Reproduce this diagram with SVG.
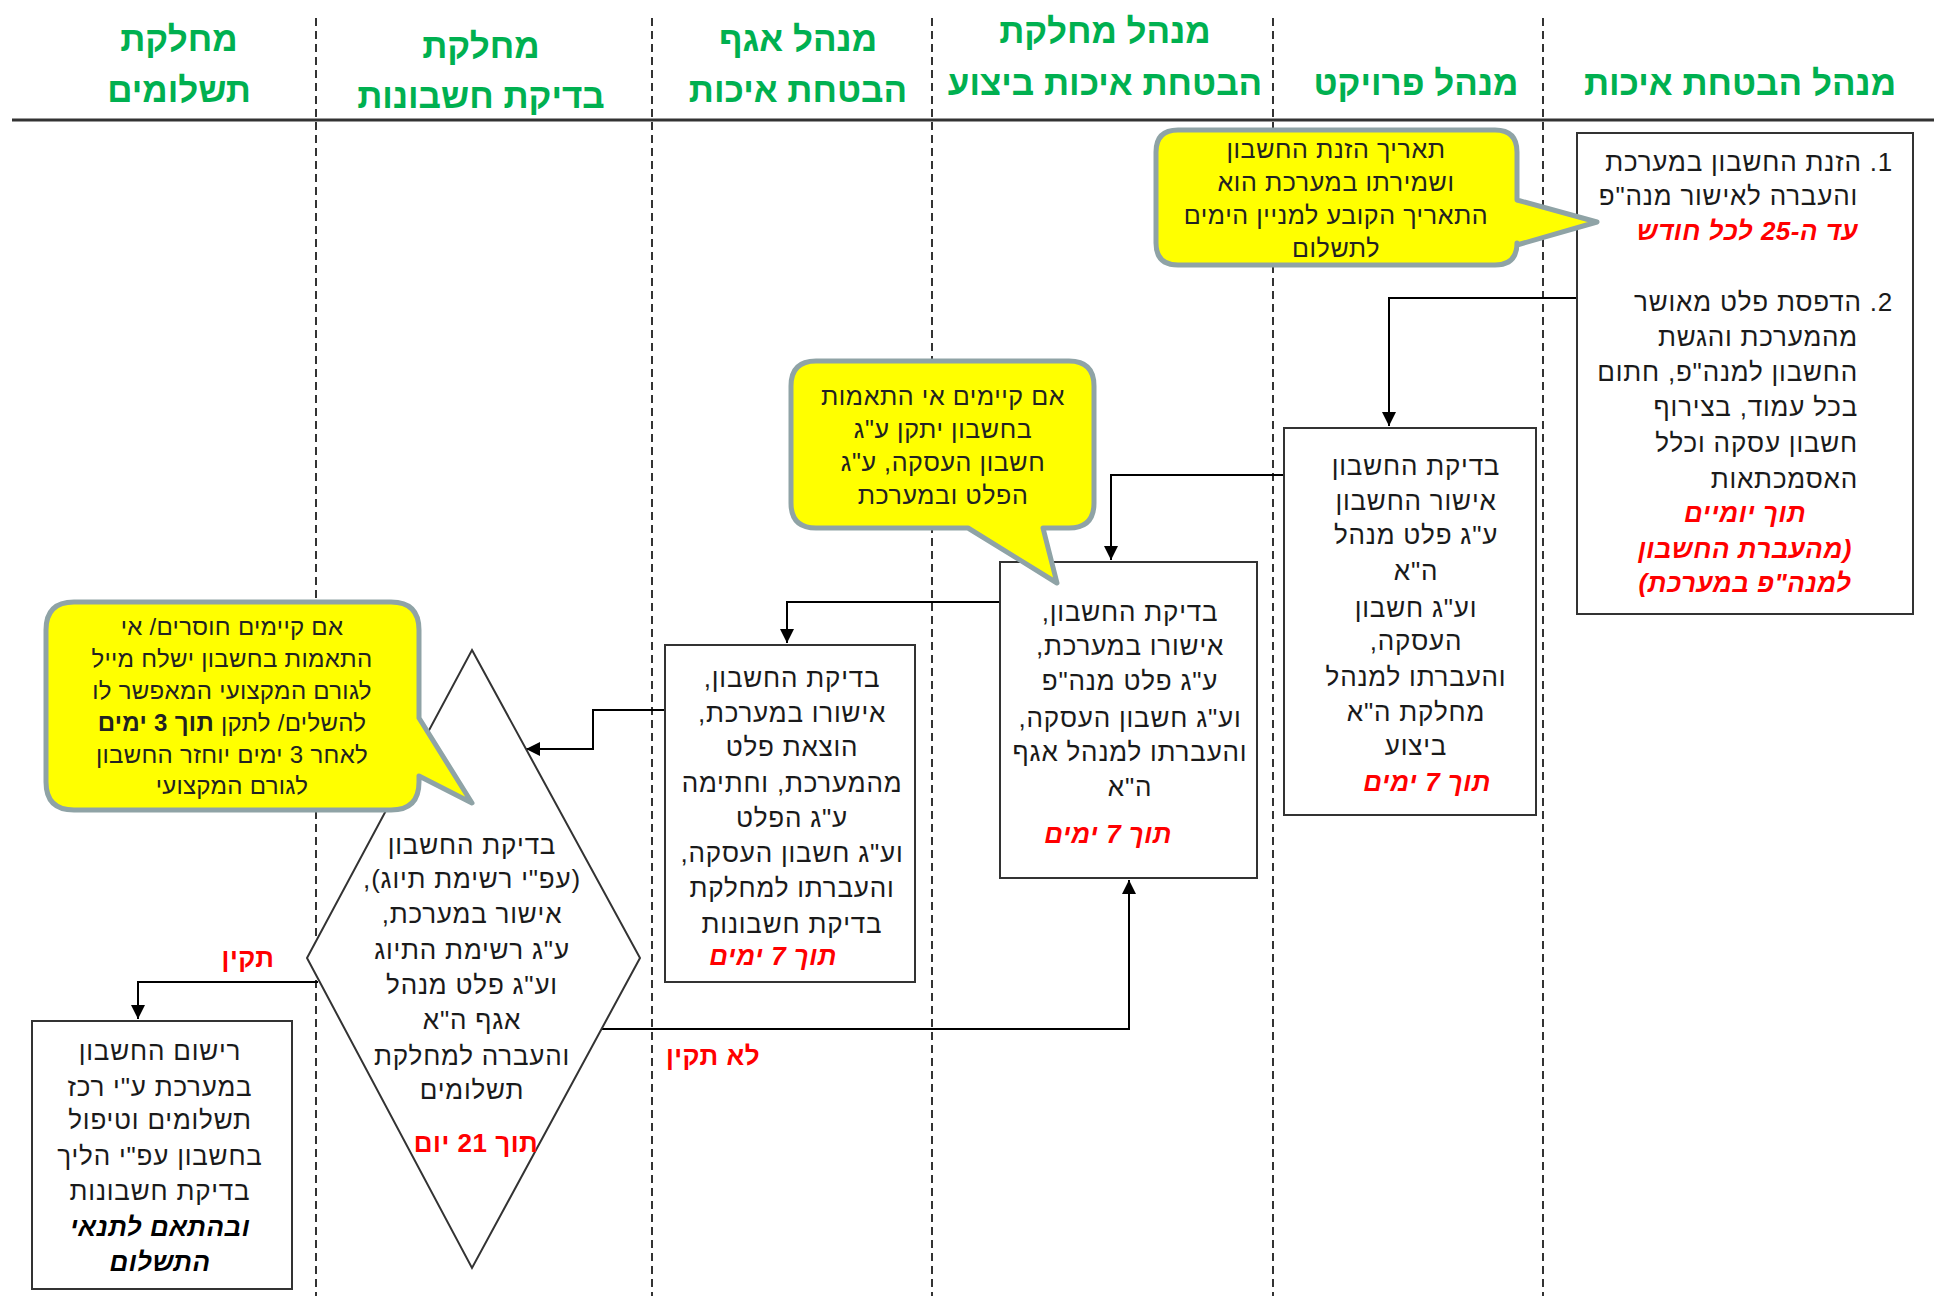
<svg xmlns="http://www.w3.org/2000/svg" width="1934" height="1296" viewBox="0 0 1934 1296">
<style>
text{font-family:"Liberation Sans","DejaVu Sans",sans-serif;direction:rtl;unicode-bidi:embed}
.hd{font-size:35px;font-weight:bold;fill:#00B050;text-anchor:middle}
.t{font-size:26px;letter-spacing:0.8px;fill:#1a1a1a;text-anchor:middle}
.r{font-size:26px;letter-spacing:0.8px;fill:#1a1a1a;text-anchor:start}
.red{font-size:26px;letter-spacing:0.5px;fill:#FF0000;font-weight:bold;font-style:italic;text-anchor:middle}
.redr{font-size:26px;letter-spacing:0.5px;fill:#FF0000;font-weight:bold;font-style:italic;text-anchor:start}
.lbl{font-size:26px;letter-spacing:0.5px;fill:#FF0000;font-weight:bold;text-anchor:middle}
.ct{font-size:25px;letter-spacing:0.6px;fill:#222;text-anchor:middle}
.ct3{font-size:24px;letter-spacing:0.3px;fill:#222;text-anchor:middle}
.bi{font-size:26px;letter-spacing:0.5px;fill:#000;font-weight:bold;font-style:italic;text-anchor:middle}
.lane{stroke:#333;stroke-width:2;stroke-dasharray:8 5;fill:none}
.box{fill:#fff;stroke:#333;stroke-width:2}
.bub{fill:#FFFF00;stroke:#8FA3A6;stroke-width:5;stroke-linejoin:round}
.con{fill:none;stroke:#000;stroke-width:2}
</style>
<defs>
<marker id="ah" markerUnits="userSpaceOnUse" markerWidth="16" markerHeight="14" refX="14" refY="7" orient="auto">
<path d="M0,0 L14,7 L0,14 Z" fill="#000"/>
</marker>
</defs>
<rect width="1934" height="1296" fill="#fff"/>
<g id="lanes">
<line class="lane" x1="316" y1="18" x2="316" y2="1296"/>
<line class="lane" x1="652" y1="18" x2="652" y2="1296"/>
<line class="lane" x1="932" y1="18" x2="932" y2="1296"/>
<line class="lane" x1="1273" y1="18" x2="1273" y2="1296"/>
<line class="lane" x1="1543" y1="18" x2="1543" y2="1296"/>
<line x1="12" y1="120" x2="1934" y2="120" stroke="#333" stroke-width="3"/>
</g>
<g id="headers">
<text class="hd" x="179" y="51">מחלקת</text>
<text class="hd" x="179" y="102">תשלומים</text>
<text class="hd" x="481" y="58">מחלקת</text>
<text class="hd" x="481" y="108">בדיקת חשבונות</text>
<text class="hd" x="798" y="51">מנהל אגף</text>
<text class="hd" x="798" y="102">הבטחת איכות</text>
<text class="hd" x="1105" y="43">מנהל מחלקת</text>
<text class="hd" x="1105" y="95">הבטחת איכות ביצוע</text>
<text class="hd" x="1416" y="95">מנהל פרויקט</text>
<text class="hd" x="1740" y="95">מנהל הבטחת איכות</text>
</g>
<g id="connectors">
<path class="con" d="M1577,298 H1389 V426" marker-end="url(#ah)"/>
<path class="con" d="M1292,475 H1111 V560" marker-end="url(#ah)"/>
<path class="con" d="M1000,602 H787 V643" marker-end="url(#ah)"/>
<path class="con" d="M665,710 H593 V749 H526" marker-end="url(#ah)"/>
<path class="con" d="M318,982 H138 V1019" marker-end="url(#ah)"/>
<path class="con" d="M602,1029 H1129 V880" marker-end="url(#ah)"/>
<text class="lbl" x="248" y="967">תקין</text>
<text class="lbl" x="713" y="1065">לא תקין</text>
</g>
<g id="box1">
<rect class="box" x="1577" y="133" width="336" height="481"/>
<text class="r" x="1893" y="171">1. הזנת החשבון במערכת</text>
<text class="r" x="1858" y="205">והעברה לאישור מנה"פ</text>
<text class="redr" x="1858" y="240">עד ה-25 לכל חודש</text>
<text class="r" x="1893" y="311">2. הדפסת פלט מאושר</text>
<text class="r" x="1858" y="346">מהמערכת והגשת</text>
<text class="r" x="1858" y="381">החשבון למנה"פ, חתום</text>
<text class="r" x="1858" y="416">בכל עמוד, בצירוף</text>
<text class="r" x="1858" y="452">חשבון עסקה וכלל</text>
<text class="r" x="1858" y="488">האסמכתאות</text>
<text class="red" x="1745" y="522">תוך יומיים</text>
<text class="red" x="1745" y="558">(מהעברת החשבון</text>
<text class="red" x="1745" y="592">למנה"פ במערכת)</text>
</g>
<g id="box2">
<rect class="box" x="1284" y="428" width="252" height="387"/>
<text class="t" x="1416" y="475">בדיקת החשבון</text>
<text class="t" x="1416" y="510">אישור החשבון</text>
<text class="t" x="1416" y="544">ע"ג פלט מנהל</text>
<text class="t" x="1416" y="580">ה"א</text>
<text class="t" x="1416" y="617">וע"ג חשבון</text>
<text class="t" x="1416" y="650">העסקה,</text>
<text class="t" x="1416" y="686">והעברתו למנהל</text>
<text class="t" x="1416" y="721">מחלקת ה"א</text>
<text class="t" x="1416" y="755">ביצוע</text>
<text class="red" x="1427" y="791">תוך 7 ימים</text>
</g>
<g id="box3">
<rect class="box" x="1000" y="562" width="257" height="316"/>
<text class="t" x="1130" y="621">בדיקת החשבון,</text>
<text class="t" x="1130" y="655">אישורו במערכת,</text>
<text class="t" x="1130" y="690">ע"ג פלט מנה"פ</text>
<text class="t" x="1130" y="727">וע"ג חשבון העסקה,</text>
<text class="t" x="1130" y="761">והעברתו למנהל אגף</text>
<text class="t" x="1130" y="796">ה"א</text>
<text class="red" x="1108" y="843">תוך 7 ימים</text>
</g>
<g id="box4">
<rect class="box" x="665" y="645" width="250" height="337"/>
<text class="t" x="792" y="687">בדיקת החשבון,</text>
<text class="t" x="792" y="722">אישורו במערכת,</text>
<text class="t" x="792" y="756">הוצאת פלט</text>
<text class="t" x="792" y="792">מהמערכת, וחתימה</text>
<text class="t" x="792" y="827">ע"ג הפלט</text>
<text class="t" x="792" y="862">וע"ג חשבון העסקה,</text>
<text class="t" x="792" y="897">והעברתו למחלקת</text>
<text class="t" x="792" y="933">בדיקת חשבונות</text>
<text class="red" x="773" y="965">תוך 7 ימים</text>
</g>
<g id="diamond">
<path class="box" d="M472,650 L640,958 L472,1268 L307,958 Z"/>
<text class="t" x="472" y="854">בדיקת החשבון</text>
<text class="t" x="472" y="888">(עפ"י רשימת תיוג),</text>
<text class="t" x="472" y="923">אישור במערכת,</text>
<text class="t" x="472" y="959">ע"ג רשימת התיוג</text>
<text class="t" x="472" y="994">וע"ג פלט מנהל</text>
<text class="t" x="472" y="1029">אגף ה"א</text>
<text class="t" x="472" y="1065">והעברה למחלקת</text>
<text class="t" x="472" y="1099">תשלומים</text>
<text class="lbl" x="476" y="1152">תוך 21 יום</text>
</g>
<g id="box5">
<rect class="box" x="32" y="1021" width="260" height="268"/>
<text class="t" x="160" y="1060">רישום החשבון</text>
<text class="t" x="160" y="1096">במערכת ע"י רכז</text>
<text class="t" x="160" y="1129">תשלומים וטיפול</text>
<text class="t" x="160" y="1165">בחשבון עפ"י הליך</text>
<text class="t" x="160" y="1200">בדיקת חשבונות</text>
<text class="bi" x="160" y="1236">ובהתאם לתנאי</text>
<text class="bi" x="160" y="1271">התשלום</text>
</g>
<g id="callout1">
<path class="bub" d="M1178,130 H1495 Q1517,130 1517,152 V200 L1597,222 L1517,245 V243 Q1517,265 1495,265 H1178 Q1156,265 1156,243 V152 Q1156,130 1178,130 Z"/>
<text class="ct" x="1336" y="158">תאריך הזנת החשבון</text>
<text class="ct" x="1336" y="191">ושמירתו במערכת הוא</text>
<text class="ct" x="1336" y="224">התאריך הקובע למניין הימים</text>
<text class="ct" x="1336" y="257">לתשלום</text>
</g>
<g id="callout2">
<path class="bub" d="M816,361 H1069 Q1094,361 1094,386 V503 Q1094,528 1069,528 H1043 L1057,583 L968,528 H816 Q791,528 791,503 V386 Q791,361 816,361 Z"/>
<text class="ct" x="943" y="405">אם קיימים אי התאמות</text>
<text class="ct" x="943" y="438">בחשבון יתקן ע"ג</text>
<text class="ct" x="943" y="471">חשבון העסקה, ע"ג</text>
<text class="ct" x="943" y="504">הפלט ובמערכת</text>
</g>
<g id="callout3">
<path class="bub" d="M74,602 H391 Q419,602 419,630 V718 L472,803 L419,776 V782 Q419,810 391,810 H74 Q46,810 46,782 V630 Q46,602 74,602 Z"/>
<text class="ct3" x="232" y="635">אם קיימים חוסרים/ אי</text>
<text class="ct3" x="232" y="667">התאמות בחשבון ישלח מייל</text>
<text class="ct3" x="232" y="699">לגורם המקצועי המאפשר לו</text>
<text class="ct3" x="232" y="731">להשלים/ לתקן <tspan font-weight="bold">תוך 3 ימים</tspan></text>
<text class="ct3" x="232" y="763">לאחר 3 ימים יוחזר החשבון</text>
<text class="ct3" x="232" y="794">לגורם המקצועי</text>
</g>
</svg>
